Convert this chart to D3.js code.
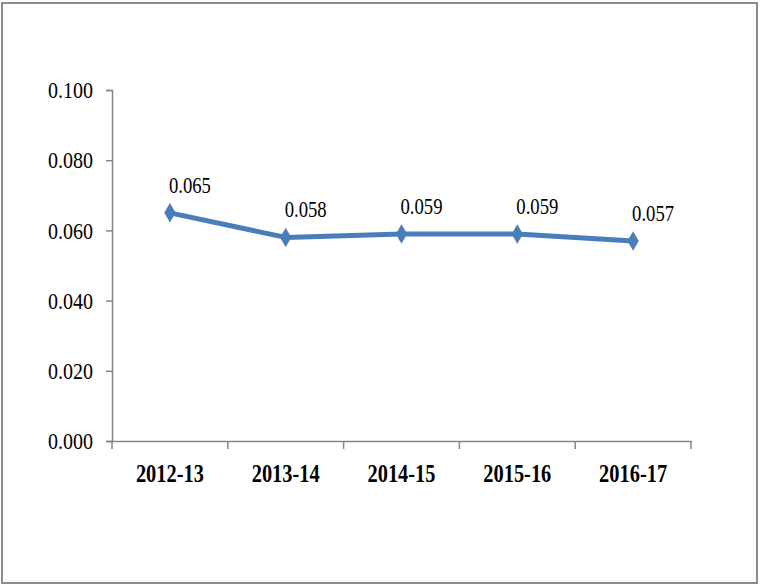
<!DOCTYPE html>
<html>
<head>
<meta charset="utf-8">
<script src="https://cdn.jsdelivr.net/npm/d3@7"></script>
<style>
  body { margin: 0; background: #fff; }
  svg { display: block; }
  text { font-family: "Liberation Serif", "Times New Roman", serif; fill: #000; }
</style>
</head>
<body>
<svg id="chart" width="760" height="586"></svg>
<script>
var years = ['2012-13', '2013-14', '2014-15', '2015-16', '2016-17'];
var values = [0.065, 0.058, 0.059, 0.059, 0.057];
var yTicks = [0, 0.02, 0.04, 0.06, 0.08, 0.1];

var svg = d3.select('#chart');

// outer frame
svg.append('rect')
  .attr('x', 2).attr('y', 3)
  .attr('width', 755).attr('height', 580)
  .attr('fill', 'none')
  .attr('stroke', '#8c8c8c')
  .attr('stroke-width', 2);

var plotLeft = 112, plotRight = 691, plotTop = 90, plotBottom = 441;

var x = d3.scaleBand().domain(years).range([plotLeft, plotRight]);
var y = d3.scaleLinear().domain([0, 0.1]).range([plotBottom, plotTop]);

var yAxis = svg.append('g')
  .attr('transform', 'translate(' + plotLeft + ',0)')
  .call(d3.axisLeft(y).tickValues(yTicks).tickFormat(d3.format('.3f')).tickSizeOuter(0).tickSize(6).tickPadding(13));

var xAxis = svg.append('g')
  .attr('transform', 'translate(0,' + plotBottom + ')')
  .call(d3.axisBottom(x).tickSize(0).tickPadding(0));

// category boundary ticks
var bounds = years.map(function(d) { return x(d); }).concat([plotRight]);
xAxis.selectAll('.bound').data(bounds).enter().append('line')
  .attr('class', 'bound')
  .attr('x1', function(d) { return d; }).attr('x2', function(d) { return d; })
  .attr('y1', 0).attr('y2', 8);

svg.selectAll('.domain, .tick line, .bound')
  .attr('stroke', '#868686')
  .attr('stroke-width', 1.5);

// the original text is tall and narrow: squeeze glyphs with textLength
yAxis.selectAll('.tick text')
  .attr('font-size', 24)
  .attr('fill', '#000')
  .attr('textLength', 45)
  .attr('lengthAdjust', 'spacingAndGlyphs');

xAxis.selectAll('.tick text')
  .attr('font-size', 26)
  .attr('font-weight', 'bold')
  .attr('fill', '#000')
  .attr('dy', null)
  .attr('y', 41)
  .attr('textLength', 68)
  .attr('lengthAdjust', 'spacingAndGlyphs');

var cx = function(d, i) { return x(years[i]) + x.bandwidth() / 2; };

var line = d3.line()
  .x(cx)
  .y(function(d) { return y(d); });

svg.append('path')
  .datum(values)
  .attr('d', line)
  .attr('fill', 'none')
  .attr('stroke', '#4a7ebb')
  .attr('stroke-width', 5)
  .attr('stroke-linejoin', 'round');

svg.selectAll('.marker').data(values).enter().append('path')
  .attr('class', 'marker')
  .attr('d', d3.symbol().type(d3.symbolDiamond).size(110))
  .attr('transform', function(d, i) { return 'translate(' + cx(d, i) + ',' + y(d) + ')'; })
  .attr('fill', '#4a7ebb');

svg.selectAll('.label').data(values).enter().append('text')
  .attr('class', 'label')
  .attr('x', function(d, i) { return cx(d, i) + 20; })
  .attr('y', function(d) { return y(d) - 20; })
  .attr('text-anchor', 'middle')
  .attr('font-size', 24)
  .attr('textLength', 42)
  .attr('lengthAdjust', 'spacingAndGlyphs')
  .text(function(d) { return d3.format('.3f')(d); });
</script>
</body>
</html>
